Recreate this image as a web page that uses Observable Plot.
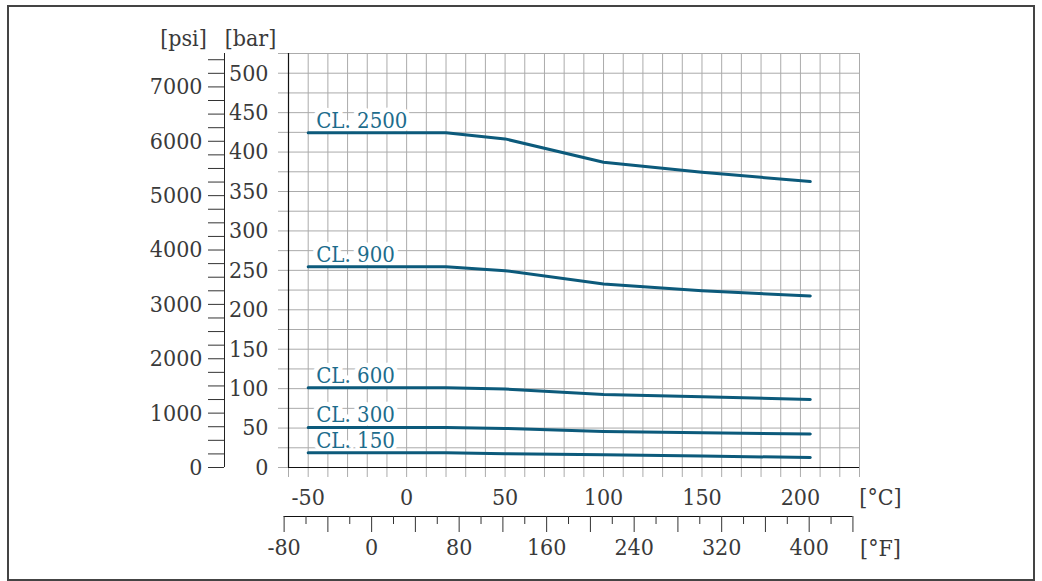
<!DOCTYPE html>
<html><head><meta charset="utf-8">
<script src="https://cdn.jsdelivr.net/npm/d3@7"></script>
<script src="https://cdn.jsdelivr.net/npm/@observablehq/plot@0.6"></script>
<style>
html,body{margin:0;padding:0;background:#fff;}
#wrap{position:relative;width:1042px;height:581px;overflow:hidden;}
#chart{position:absolute;left:0;top:0;}
#chart svg text{font-stretch:condensed;}
#border{position:absolute;left:7px;top:5px;width:1024px;height:572px;border:2px solid #444;}
</style></head><body>
<div id="wrap"><div id="chart"></div><div id="border"></div></div>
<script>
// Temperature break points (°C)
const temperatureC = [-50, 20, 50, 100, 150, 205];
// Pressure ratings (bar) per class
const cl150  = [18.7, 18.7, 17.4, 16.1, 14.5, 12.7];
const cl300  = [50.8, 50.8, 49.5, 45.7, 44.0, 42.4];
const cl600  = [101.1, 101.1, 99.5, 92.6, 89.7, 86.3];
const cl900  = [254.7, 254.7, 249.6, 232.7, 224.2, 217.5];
const cl2500 = [424.4, 424.4, 416.7, 387.0, 374.4, 362.6];
const classNames = ["CL. 150", "CL. 300", "CL. 600", "CL. 900", "CL. 2500"];
const classSeries = [cl150, cl300, cl600, cl900, cl2500];

// Axis tick labels
const barLabels = [0, 50, 100, 150, 200, 250, 300, 350, 400, 450, 500];
const psiLabels = [0, 1000, 2000, 3000, 4000, 5000, 6000, 7000];
const cLabels = [-50, 0, 50, 100, 150, 200];
const fLabels = [-80, 0, 80, 160, 240, 320, 400];
const fExtent = [-80, 440];
const xDomain = [-60, 230];
const yDomain = [0, 525];
const PSI_PER_BAR = 14.5038;

const toC = f => (f - 32) / 1.8;
const toF = c => c * 1.8 + 32;

const gridC = d3.range(xDomain[0], xDomain[1] + 1, 10);
const gridBar = d3.range(yDomain[0], yDomain[1] + 1, 25);
const psiTicks = d3.range(0, 7501, 250);
const fLong = d3.range(fExtent[0], fExtent[1] + 1, 40);
const fShort = d3.range(fExtent[0] + 20, fExtent[1], 40);

const rows = classNames.flatMap((name, i) =>
  temperatureC.map((t, j) => ({cls: name, t, p: classSeries[i][j]})));
const labelRows = classNames.map((name, i) => ({cls: name, t: temperatureC[0], p: classSeries[i][0]}));

const ink = "#3a3a3a";
const gridColor = "#ababab";
const blank = () => "";
const FS = 23;

const unit = (s, anchor, dx, dy) => Plot.text([s], {text: d => d, frameAnchor: anchor, dx, dy,
  textAnchor: "middle", lineAnchor: "middle", fill: ink, fontSize: FS});

const chart = Plot.plot({
  width: 1042, height: 581,
  marginLeft: 288, marginRight: 183, marginTop: 53, marginBottom: 114,
  x: {domain: xDomain, label: null},
  y: {domain: yDomain, label: null},
  style: {fontFamily: "'DejaVu Serif Condensed', 'DejaVu Serif', serif", fontSize: "23px", color: ink, background: "transparent"},
  marks: [
    Plot.gridX(gridC, {stroke: gridColor, strokeOpacity: 1}),
    Plot.gridY(gridBar, {stroke: gridColor, strokeOpacity: 1}),
    // grid extensions outside the frame
    Plot.axisX(gridC, {tickSize: 10, tickFormat: blank, stroke: gridColor, label: null}),
    Plot.axisY(gridBar, {anchor: "left", tickSize: 10, tickFormat: blank, stroke: gridColor, label: null}),
    // bar labels
    Plot.axisY(barLabels, {anchor: "left", tickSize: 0, tickPadding: 20, tickFormat: d => String(d), label: null, fill: ink, fontSize: FS}),
    // psi axis
    Plot.ruleX([xDomain[0]], {y1: yDomain[0], y2: yDomain[1], dx: -64, stroke: "#222"}),
    Plot.axisY(psiTicks.map(p => p / PSI_PER_BAR), {anchor: "left", tickSize: 16, dx: -64, tickFormat: blank, stroke: "#333", label: null}),
    Plot.axisY(psiLabels.map(p => p / PSI_PER_BAR), {anchor: "left", tickSize: 0, tickPadding: 22, dx: -64, tickFormat: d => String(Math.round(d * PSI_PER_BAR)), label: null, fill: ink, fontSize: FS}),
    // °C labels
    Plot.axisX(cLabels, {tickSize: 0, tickPadding: 21, tickFormat: d => String(d), label: null, fill: ink, fontSize: FS}),
    // °F axis
    Plot.ruleY([yDomain[0]], {x1: toC(fExtent[0]), x2: toC(fExtent[1]), dy: 49, stroke: "#111"}),
    Plot.axisX(fLong.map(toC), {tickSize: 16, dy: 49, tickFormat: blank, stroke: "#333", label: null}),
    Plot.axisX(fShort.map(toC), {tickSize: 8, dy: 49, tickFormat: blank, stroke: "#333", label: null}),
    Plot.axisX(fLabels.map(toC), {tickSize: 0, tickPadding: 22, dy: 49, tickFormat: d => String(Math.round(toF(d))), label: null, fill: ink, fontSize: FS}),
    // frame lines
    Plot.ruleX([xDomain[0]], {stroke: "#111", strokeWidth: 1.2}),
    Plot.ruleY([yDomain[0]], {stroke: "#111", strokeWidth: 1.2}),
    // unit labels
    unit("[°C]", "bottom-right", 21, 30),
    unit("[°F]", "bottom-right", 21, 81),
    unit("[psi]", "top-left", -105, -15),
    unit("[bar]", "top-left", -38, -15),
    // class labels
    Plot.text(labelRows, {x: "t", y: "p", text: "cls", textAnchor: "start", lineAnchor: "bottom", dx: 8, dy: -5,
      fill: "#1d6c8c", stroke: "white", strokeWidth: 9, strokeLinejoin: "round", paintOrder: "stroke", fontSize: 22}),
    // class lines
    Plot.line(rows, {x: "t", y: "p", z: "cls", stroke: "#0c5a7b", strokeWidth: 3})
  ]
});
document.getElementById("chart").appendChild(chart);
</script>
</body></html>
